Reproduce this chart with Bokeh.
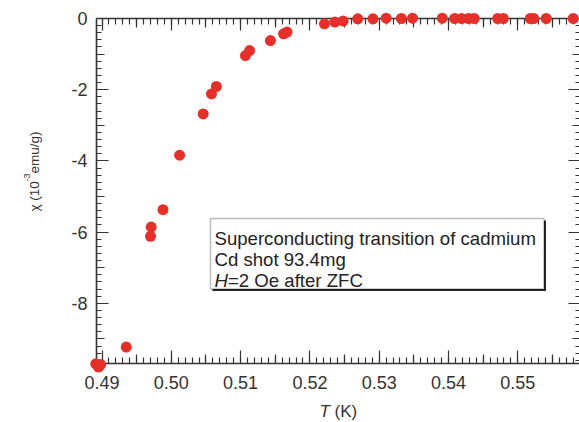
import numpy as np
from bokeh.plotting import figure
from bokeh.models import LinearAxis, FixedTicker, Range1d, Label, BoxAnnotation
from bokeh.embed import file_html
from bokeh.resources import INLINE

# ---------------- data ----------------
temperature_K = [0.4891, 0.4898, 0.4895, 0.4935, 0.4970, 0.4971, 0.4988,
                 0.5012, 0.5046, 0.5058, 0.5065, 0.5107, 0.5113, 0.5143,
                 0.5162, 0.5167, 0.5221, 0.5236, 0.5248, 0.5269, 0.5291,
                 0.5310, 0.5332, 0.5348, 0.5391, 0.5409, 0.5419, 0.5429,
                 0.5437, 0.5471, 0.5479, 0.5518, 0.5523, 0.5541, 0.5580]
chi_1e3_emu_g = [-9.70, -9.72, -9.79, -9.23, -6.12, -5.86, -5.37,
                 -3.84, -2.68, -2.12, -1.91, -1.04, -0.90, -0.62,
                 -0.43, -0.38, -0.15, -0.10, -0.07, -0.01, -0.01,
                 0.01, 0.00, 0.01, 0.01, 0.00, 0.00, 0.00,
                 0.00, 0.00, 0.00, 0.00, 0.00, 0.00, 0.00]

x_major_ticks = [0.49, 0.50, 0.51, 0.52, 0.53, 0.54, 0.55]
x_tick_labels = ["0.49", "0.50", "0.51", "0.52", "0.53", "0.54", "0.55"]
x_mid_ticks = [0.495, 0.505, 0.515, 0.525, 0.535, 0.545, 0.555]
y_major_ticks = [0, -2, -4, -6, -8]
y_tick_labels = ["0", "-2", "-4", "-6", "-8"]
y_mid_ticks = [-1, -3, -5, -7, -9]

# ---------------- geometry (canvas pixels -> data) ----------------
W, H = 579, 422
PX_X = 6930.0        # px per K
PX_Y = 35.6          # px per unit of chi


def xd(px):
    return 0.49 + (px - 101.5) / PX_X


def yd(py):
    return -(py - 18.0) / PX_Y


X_LO, X_HI = xd(96), xd(580)
Y_LO, Y_HI = yd(363), 0.0

x_minor = [round(v, 4) for v in np.arange(0.490, X_HI, 0.001)]
y_minor = [round(v, 2) for v in np.arange(-9.6, 0.001, 0.2)]

AXC = "#333333"
FONT = "Liberation Sans"

p = figure(width=W, height=H, output_backend="svg", toolbar_location=None,
           x_range=Range1d(xd(0), xd(W)), y_range=Range1d(yd(H), yd(0)),
           x_axis_location=None, y_axis_location=None,
           min_border=0, min_border_left=0, min_border_right=0,
           min_border_top=0, min_border_bottom=0)
p.outline_line_color = None
p.background_fill_color = "white"
p.border_fill_color = "white"
p.xgrid.visible = False
p.ygrid.visible = False


def tick_axis(side, minor, length, loc, bounds, line=False):
    ax = LinearAxis(ticker=FixedTicker(ticks=[], minor_ticks=list(minor)),
                    fixed_location=loc, bounds=bounds,
                    minor_tick_in=length, minor_tick_out=0,
                    minor_tick_line_color=AXC, minor_tick_line_width=1.2,
                    major_tick_line_color=None,
                    axis_line_color=AXC if line else None,
                    axis_line_width=1.6)
    p.add_layout(ax, side)
    return ax


# bottom (labelled)
xb = LinearAxis(ticker=FixedTicker(ticks=x_major_ticks, minor_ticks=x_minor),
                fixed_location=Y_LO, bounds=(X_LO, X_HI),
                major_tick_in=13, major_tick_out=0, minor_tick_in=6, minor_tick_out=0,
                major_tick_line_color=AXC, minor_tick_line_color=AXC,
                major_tick_line_width=1.2, minor_tick_line_width=1.2,
                axis_line_color=AXC, axis_line_width=1.6,
                major_label_standoff=12,
                major_label_overrides=dict(zip(x_major_ticks, x_tick_labels)),
                major_label_text_font=FONT, major_label_text_font_size="18px",
                major_label_text_color="#333333")
p.add_layout(xb, "below")
tick_axis("below", x_mid_ticks, 9, Y_LO, (X_LO, X_HI))

# left (labelled)
yl = LinearAxis(ticker=FixedTicker(ticks=y_major_ticks, minor_ticks=y_minor),
                fixed_location=X_LO, bounds=(Y_LO, Y_HI),
                major_tick_in=12, major_tick_out=0, minor_tick_in=5, minor_tick_out=0,
                major_tick_line_color=AXC, minor_tick_line_color=AXC,
                major_tick_line_width=1.2, minor_tick_line_width=1.2,
                axis_line_color=AXC, axis_line_width=1.6,
                major_label_standoff=9,
                major_label_overrides=dict(zip(y_major_ticks, y_tick_labels)),
                major_label_text_font=FONT, major_label_text_font_size="18px",
                major_label_text_color="#333333")
p.add_layout(yl, "left")
tick_axis("left", y_mid_ticks, 8, X_LO, (Y_LO, Y_HI))

# top (unlabelled)
tick_axis("above", x_minor, 6, Y_HI, (X_LO, X_HI), line=True)
tick_axis("above", x_mid_ticks, 9, Y_HI, (X_LO, X_HI))
tick_axis("above", x_major_ticks, 12, Y_HI, (X_LO, X_HI))

# right (unlabelled, its line just outside the picture as in the reference)
tick_axis("right", y_minor, 5, X_HI, (Y_LO, Y_HI), line=True)
tick_axis("right", y_mid_ticks, 8, X_HI, (Y_LO, Y_HI))
tick_axis("right", y_major_ticks, 12, X_HI, (Y_LO, Y_HI))

# data points
p.scatter(temperature_K, chi_1e3_emu_g, size=11, fill_color="#e5302a",
          line_color=None, level="overlay")

# text box with a drop shadow
p.add_layout(BoxAnnotation(left=xd(212), right=xd(545.5), top=yd(220), bottom=yd(290.5),
                           fill_color="#222222", fill_alpha=1.0, line_color=None))
p.add_layout(BoxAnnotation(left=xd(210), right=xd(543.5), top=yd(218), bottom=yd(288.5),
                           fill_color="white", fill_alpha=1.0, line_color="#222222",
                           line_width=1.5))

TXT = "#222222"
BOX_FS = "18.6px"
for txt, py in [("Superconducting transition of cadmium", 237.5),
                ("Cd shot 93.4mg", 258.5)]:
    p.add_layout(Label(x=xd(214), y=yd(py), text=txt, text_font=FONT,
                       text_font_size=BOX_FS, text_color=TXT,
                       text_align="left", text_baseline="alphabetic"))
p.add_layout(Label(x=xd(214), y=yd(279.5), text="H", text_font=FONT,
                   text_font_style="italic", text_font_size=BOX_FS, text_color=TXT,
                   text_align="left", text_baseline="alphabetic"))
p.add_layout(Label(x=xd(227.5), y=yd(279.5), text="=2 Oe after ZFC", text_font=FONT,
                   text_font_size=BOX_FS, text_color=TXT,
                   text_align="left", text_baseline="alphabetic"))

# x-axis title: italic T, then (K)
p.add_layout(Label(x=xd(319), y=yd(411), text="T", text_font=FONT,
                   text_font_style="italic", text_font_size="17px", text_color="#333333",
                   text_align="left", text_baseline="alphabetic"))
p.add_layout(Label(x=xd(334), y=yd(411), text="(K)", text_font=FONT,
                   text_font_size="17px", text_color="#333333",
                   text_align="left", text_baseline="alphabetic"))

# y-axis title, rotated, with a raised small "-3"
ROT = np.pi / 2
p.add_layout(Label(x=xd(34), y=yd(211), text="\u03c7 (10", text_font=FONT,
                   text_font_size="13.5px", text_color="#333333", angle=ROT,
                   text_align="left", text_baseline="alphabetic"))
p.add_layout(Label(x=xd(26), y=yd(181), text="-3", text_font=FONT,
                   text_font_size="9px", text_color="#333333", angle=ROT,
                   text_align="left", text_baseline="alphabetic"))
p.add_layout(Label(x=xd(34), y=yd(173), text="emu/g)", text_font=FONT,
                   text_font_size="13.5px", text_color="#333333", angle=ROT,
                   text_align="left", text_baseline="alphabetic"))

open("out.html", "w").write(file_html(p, INLINE))
